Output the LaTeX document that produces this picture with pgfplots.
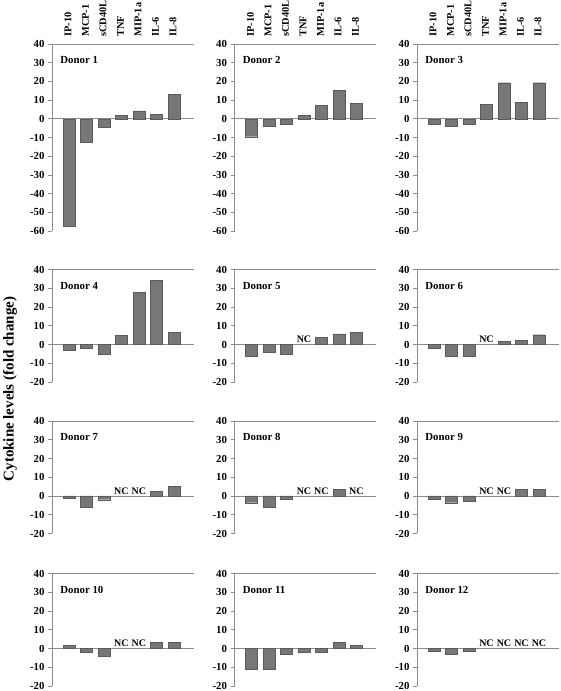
\documentclass[border=0pt]{standalone}
\usepackage{fontspec}
\setmainfont{Liberation Serif}
\usepackage{pgfplots}
\pgfplotsset{compat=1.18}
\definecolor{barfill}{HTML}{777777}
\definecolor{bardraw}{HTML}{5A5A5A}
\definecolor{axgray}{HTML}{8C8C8C}
\pgfplotsset{
  donor/.style={
    scale only axis, width=141.75pt,
    xmin=-0.97, xmax=7.13, ymax=40,
    enlargelimits=false,
    axis x line=top, axis y line=left,
    x axis line style={-,draw=axgray,line width=0.7pt},
    y axis line style={-,draw=axgray,line width=0.7pt},
    xtick={0,...,6}, xticklabels={},
    major x tick style={draw=none},
    major y tick style={draw=axgray,line width=0.6pt},
    tick align=outside, major tick length=4pt,
    ybar, bar width=0.67,
    tick label style={font=\fontsize{10.8}{12}\selectfont\bfseries},
    /pgf/number format/assume math mode=true,
    clip=false,
  },
  row1/.style={ymin=-60, height=187pt, ytick={-60,-50,...,40}},
  rowx/.style={ymin=-20, height=112.5pt, ytick={-20,-10,...,40}},
  toplabels/.style={xticklabels={IP-10,MCP-1,sCD40L,TNF,MIP-1a,IL-6,IL-8},
    xticklabel style={rotate=90, anchor=west, font=\fontsize{10.3}{12}\selectfont\bfseries, yshift=1pt}},
}
\newcommand\nc[1]{\node[font=\fontsize{10}{12}\selectfont\bfseries, inner sep=0pt] at (axis cs:#1,2.8) {NC};}
\newcommand\donorpanel[4]{%
\begin{axis}[donor,#1]
\draw[axgray, line width=0.7pt] (axis cs:-0.97,0) -- (axis cs:7.13,0);
\addplot[ybar, bar width=0.67, fill=barfill, draw=bardraw, line width=0.4pt] coordinates {#3};
\node[anchor=west, inner sep=0pt, font=\fontsize{10.8}{12}\selectfont\bfseries] at (axis cs:-0.5,31.3) {#2};
#4
\end{axis}}
\begin{document}
\begin{tikzpicture}[x=1pt,y=1pt]
\path[use as bounding box] (0,0) rectangle (560,691);
% Row 1
\donorpanel{row1,toplabels,at={(52pt,460pt)}}{Donor 1}{(0,-57.5) (1,-12.5) (2,-4.3) (3,1.8) (4,4.2) (5,2.2) (6,13)}{}
\donorpanel{row1,toplabels,at={(234.5pt,460pt)}}{Donor 2}{(0,-9.6) (1,-4.1) (2,-2.8) (3,2.0) (4,7.3) (5,15.1) (6,8.3)}{}
\donorpanel{row1,toplabels,at={(417pt,460pt)}}{Donor 3}{(0,-2.8) (1,-3.9) (2,-3.0) (3,7.8) (4,19.3) (5,8.9) (6,19.3)}{}
% Row 2
\donorpanel{rowx,at={(52pt,309pt)}}{Donor 4}{(0,-3.2) (1,-2.1) (2,-5.2) (3,5.0) (4,27.7) (5,34.3) (6,6.6)}{}
\donorpanel{rowx,at={(234.5pt,309pt)}}{Donor 5}{(0,-6.1) (1,-4.3) (2,-5.2) (4,3.9) (5,5.7) (6,6.3)}{\nc{3}}
\donorpanel{rowx,at={(417pt,309pt)}}{Donor 6}{(0,-2.1) (1,-6.1) (2,-6.1) (4,1.6) (5,2.3) (6,5.2)}{\nc{3}}
% Row 3
\donorpanel{rowx,at={(52pt,157.5pt)}}{Donor 7}{(0,-1.4) (1,-5.8) (2,-2.0) (5,2.5) (6,5.2)}{\nc{3}\nc{4}}
\donorpanel{rowx,at={(234.5pt,157.5pt)}}{Donor 8}{(0,-3.6) (1,-5.8) (2,-1.8) (5,3.4)}{\nc{3}\nc{4}\nc{6}}
\donorpanel{rowx,at={(417pt,157.5pt)}}{Donor 9}{(0,-1.6) (1,-3.6) (2,-2.7) (5,3.4) (6,3.4)}{\nc{3}\nc{4}}
% Row 4
\donorpanel{rowx,at={(52pt,5pt)}}{Donor 10}{(0,1.6) (1,-1.9) (2,-4.0) (5,3.2) (6,3.2)}{\nc{3}\nc{4}}
\donorpanel{rowx,at={(234.5pt,5pt)}}{Donor 11}{(0,-10.9) (1,-10.9) (2,-2.8) (3,-1.9) (4,-1.9) (5,3.2) (6,1.6)}{}
\donorpanel{rowx,at={(417pt,5pt)}}{Donor 12}{(0,-1.4) (1,-3.2) (2,-1.6)}{\nc{3}\nc{4}\nc{5}\nc{6}}
\node[rotate=90, font=\fontsize{15}{18}\selectfont\bfseries] at (10,302) {Cytokine levels (fold change)};
\end{tikzpicture}
\end{document}
